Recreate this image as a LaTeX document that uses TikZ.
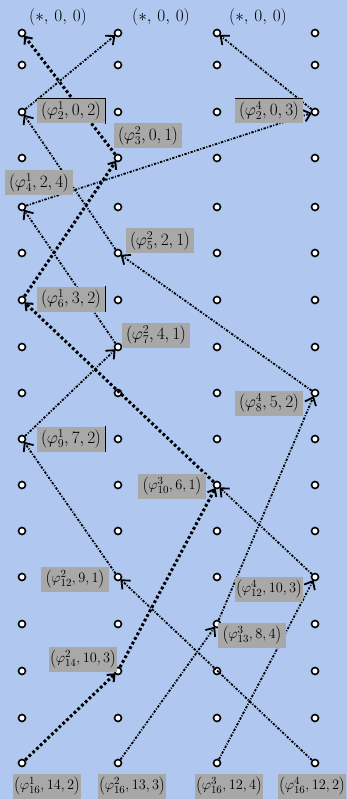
\documentclass[tikz,border=0pt]{standalone}
\usetikzlibrary{arrows.meta}
\definecolor{bg}{RGB}{176,200,240}
\definecolor{boxg}{RGB}{168,168,168}
\tikzset{
  gpt/.style={circle,draw=black,fill=white,line width=1.6pt,minimum size=7pt,inner sep=0pt},
  lab/.style={fill=boxg,inner sep=0pt,minimum width=68pt,minimum height=25pt,font=\fontsize{17.5}{19}\selectfont},
  labw/.style={lab,font=\fontsize{15.5}{18}\selectfont},
  star/.style={inner sep=0pt,font=\fontsize{19}{21}\selectfont},
  flowa/.style={line width=1.8pt,dash pattern=on 2.4pt off 1.5pt on 1pt off 1.5pt,
    -{Straight Barb[length=7pt,width=12pt,line width=1.8pt]},shorten >=-1pt},
  flowb/.style={line width=3pt,dash pattern=on 2.8pt off 2.4pt,
    -{Straight Barb[length=6pt,width=10pt,line width=2pt]},shorten >=-1pt},
  edgeline/.style={line width=1.3pt}
}
\begin{document}
\begin{tikzpicture}[x=1pt,y=-1pt]
\useasboundingbox (0,0) rectangle (347,799);
\fill[bg] (0,0) rectangle (347,799);
% grid of points
\foreach \r/\yy in {0/33,1/65,2/112,3/158,4/207,5/253,6/300,7/347,8/393,9/439,10/485,11/531,12/577,13/624,14/671,15/718,16/763}{
  \foreach \c/\xx in {0/22,1/118,2/217,3/315}{
    \node[gpt] (g\c-\r) at (\xx,\yy) {};
  }
}
% connectors
\draw[flowa] (g0-2) -- (g1-0);
\draw[flowb] (g1-3) -- (g0-0);
\draw[flowa] (g3-2) -- (g2-0);
\draw[flowa] (g0-4) -- (g3-2);
\draw[flowb] (g0-6) -- (g1-3);
\draw[flowa] (g1-5) -- (g0-2);
\draw[flowa] (g3-8) -- (g1-5);
\draw[flowa] (g1-7) -- (g0-4);
\draw[flowa] (g0-9) -- (g1-7);
\draw[flowb] (g2-10) -- (g0-6);
\draw[flowa] (g1-12) -- (g0-9);
\draw[flowa] (g3-12) -- (g2-10);
\draw[flowa] (g2-13) -- (g3-8);
\draw[flowb] (g1-14) -- (g2-10);
\draw[flowb] (g0-16) -- (g1-14);
\draw[flowa] (g3-16) -- (g1-12);
\draw[flowa] (g1-16) -- (g2-13);
\draw[flowa] (g2-16) -- (g3-12);
% labels
\node[star] (s1) at (58,17) {$(*,\,0,\,0)$};
\node[star] (s2) at (161,17) {$(*,\,0,\,0)$};
\node[star] (s3) at (258,17) {$(*,\,0,\,0)$};
\node[lab] (l4) at (71,111) {$\left(\varphi^1_2,0,2\right)$};
\node[lab] (l5) at (269,111) {$\left(\varphi^4_2,0,3\right)$};
\node[lab] (l6) at (148,136) {$\left(\varphi^2_3,0,1\right)$};
\node[lab] (l7) at (39,183) {$\left(\varphi^1_4,2,4\right)$};
\node[lab] (l8) at (160,241) {$\left(\varphi^2_5,2,1\right)$};
\node[lab] (l9) at (71,299) {$\left(\varphi^1_6,3,2\right)$};
\node[lab] (l10) at (156,335) {$\left(\varphi^2_7,4,1\right)$};
\node[lab] (l11) at (269,403) {$\left(\varphi^4_8,5,2\right)$};
\node[lab] (l12) at (71,439) {$\left(\varphi^1_9,7,2\right)$};
\node[labw] (l13) at (172,486) {$\left(\varphi^3_{10},6,1\right)$};
\node[labw] (l14) at (75,579) {$\left(\varphi^2_{12},9,1\right)$};
\node[labw] (l15) at (269,589) {$\left(\varphi^4_{12},10,3\right)$};
\node[labw] (l16) at (252,635) {$\left(\varphi^3_{13},8,4\right)$};
\node[labw] (l17) at (83,659) {$\left(\varphi^2_{14},10,3\right)$};
\node[labw] (l18) at (47,786) {$\left(\varphi^1_{16},14,2\right)$};
\node[labw] (l19) at (132,786) {$\left(\varphi^2_{16},13,3\right)$};
\node[labw] (l20) at (229,786) {$\left(\varphi^3_{16},12,4\right)$};
\node[labw] (l21) at (312,786) {$\left(\varphi^4_{16},12,2\right)$};
% dark edges on some boxes
\draw[edgeline] (l4.north west) -- (l4.north east) -- (l4.south east);
\draw[edgeline] (l5.north west) -- (l5.north east);
\draw[edgeline] (l9.north east) -- (l9.south east);
\draw[edgeline] (l12.north east) -- (l12.south east);
\end{tikzpicture}
\end{document}
